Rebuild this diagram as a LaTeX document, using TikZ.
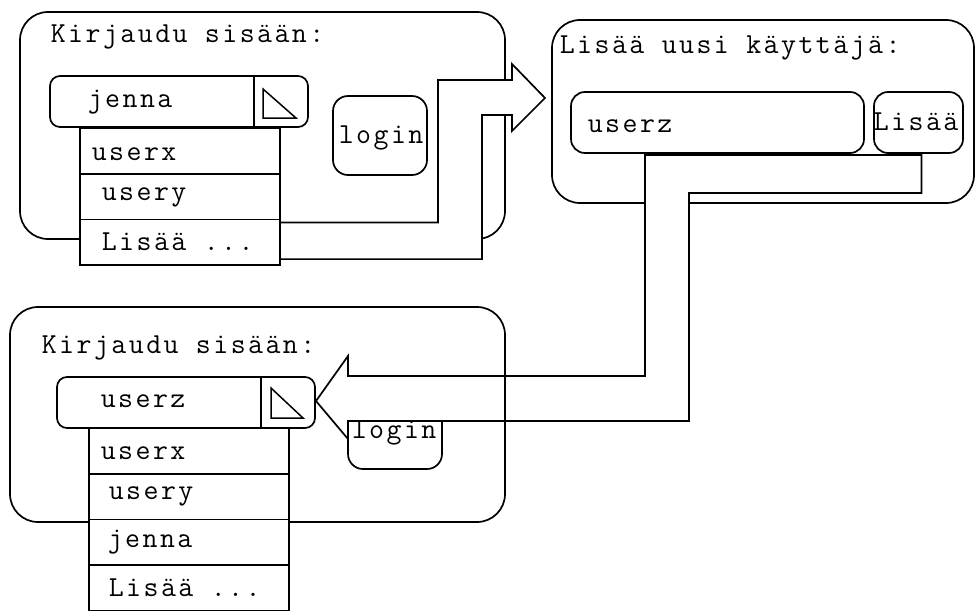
\documentclass[tikz,border=0pt]{standalone}
\usepackage{fontspec}
\setmonofont{Latin Modern Mono}[LetterSpace=8.5]
\usetikzlibrary{positioning}

\begin{document}
\begin{tikzpicture}[
    x=1pt, y=-1pt,
    line width=1.7pt,
    font=\ttfamily\fontsize{29}{34}\selectfont,
    paneeli/.style={rectangle, rounded corners=28pt, draw, anchor=north west,
      inner sep=0pt, outer sep=0pt},
    valikko/.style={rectangle, rounded corners=10pt, draw, fill=white,
      anchor=north west, minimum width=258pt, minimum height=51pt,
      inner sep=0pt, outer sep=0pt},
    kentta/.style={rectangle, rounded corners=14pt, draw, fill=white,
      anchor=north west, inner sep=0pt, outer sep=0pt},
    painike/.style={rectangle, rounded corners=15pt, draw, fill=white,
      anchor=north west, minimum width=94pt, minimum height=79pt,
      inner sep=0pt, outer sep=0pt},
    rivi/.style={rectangle, draw, fill=white, minimum width=200pt,
      minimum height=45.7pt, inner sep=0pt, outer sep=0pt},
    teksti/.style={inner sep=0pt, anchor=base west},
    nuoli/.style={draw, fill=white, line join=miter}
  ]
    \useasboundingbox (0,0) rectangle (976,610);
    \clip (0,0) rectangle (976,610);

    \node[paneeli, minimum width=485pt, minimum height=227pt] (paneeliA) at (20,12) {};
    \node[painike] (loginA) at (333,96) {};
    \node[teksti] at (338,143) {login};
    \coordinate (karkiA) at (545,98);
    \node[rivi, anchor=north west] (ra1) at (80,128) {};
    \node[rivi, below=0pt of ra1] (ra2) {};
    \node[rivi, below=0pt of ra2] (ra3) {};
    \draw[nuoli] ([yshift=-3pt]ra3.north east) -| (438,80) -- (512,80) -- (512,64)
      -- (karkiA) -- (512,131) -- (512,115) -- (482,115) |- ([yshift=6pt]ra3.south east);
    \draw (ra3.north east) -- (ra3.south east);
    \node[valikko] (valA) at (50,76) {};
    \draw (valA.north east) ++(-54,0) coordinate (jakoA) -- ++(0,51);
    \draw[line width=1.5pt] (jakoA) ++(9,13) -- ++(0,29) -- ++(33,0) -- cycle;
    \node[teksti] at (50,43) {Kirjaudu sisään:};
    \node[teksti] at (87,107) {jenna};
    \node[teksti] at (91,160) {userx};
    \node[teksti] at (101,200) {usery};
    \node[teksti] at (101,250) {Lisää ...};

    \node[paneeli, minimum width=422pt, minimum height=183pt] (paneeliB) at (552,20) {};
    \node[kentta, minimum width=293pt, minimum height=61pt] (kenttaB) at (571,92) {};
    \node[kentta, minimum width=89pt, minimum height=61pt] (lisaaB) at (874,92) {};
    \node[teksti] at (559,53) {Lisää uusi käyttäjä:};
    \node[teksti] at (587,132) {userz};
    \node[teksti] at (873,130) {Lisää};

    \node[painike] (loginC) at (348,390) {};
    \node[teksti] at (351,438) {login};
    \coordinate (karkiC) at (316,401);
    \draw[nuoli] ([xshift=74pt, yshift=-2pt]kenttaB.south west)
      -- ([xshift=3pt, yshift=-2pt]lisaaB.south) |- (689,193) -- (689,421)
      -- (348,421) -- (348,439) -- (karkiC) -- (348,356) -- (348,376)
      -- (645,376) -- cycle;
    \node[paneeli, minimum width=495pt, minimum height=215pt] (paneeliC) at (10,307) {};
    \node[valikko] (valC) at (57,377) {};
    \draw (valC.north east) ++(-54,0) coordinate (jakoC) -- ++(0,51);
    \draw[line width=1.5pt] (jakoC) ++(10,11) -- ++(0,30) -- ++(32,0) -- cycle;
    \node[rivi, anchor=north west] (rc1) at (89,428) {};
    \node[rivi, below=0pt of rc1] (rc2) {};
    \node[rivi, below=0pt of rc2] (rc3) {};
    \node[rivi, below=0pt of rc3] (rc4) {};
    \node[teksti] at (41,353) {Kirjaudu sisään:};
    \node[teksti] at (100,407) {userz};
    \node[teksti] at (100,459) {userx};
    \node[teksti] at (108,499) {usery};
    \node[teksti] at (107,547) {jenna};
    \node[teksti] at (108,596) {Lisää ...};
  \end{tikzpicture}
\end{document}
